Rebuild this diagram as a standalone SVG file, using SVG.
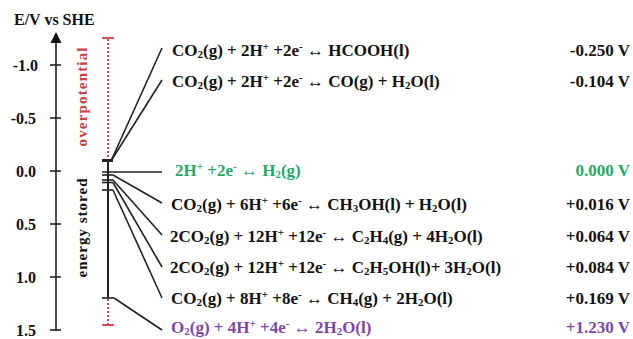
<svg xmlns="http://www.w3.org/2000/svg" width="633" height="339" viewBox="0 0 633 339">
<style>
text{font-family:"Liberation Serif","Times New Roman",serif;font-weight:bold;}
.eq{font-size:17px;fill:#111;}
.val{font-size:17px;fill:#111;text-anchor:end;}
.tick{font-size:16px;fill:#111;text-anchor:end;}
.green{fill:#27a86b;}
.purple{fill:#7d47a6;}
.sub{font-size:11px;baseline-shift:-2px;}
.sup{font-size:11px;baseline-shift:6px;}
.ln{stroke:#222;stroke-width:1.6;fill:none;}
.red{stroke:#d2404c;stroke-width:1.8;fill:none;}
.dot{stroke:#d2404c;stroke-width:1.8;stroke-dasharray:2 2;fill:none;}
</style>
<rect width="633" height="339" fill="#fff"/>
<g id="axis">
<text x="14" y="25" style="font-size:16px" fill="#111">E/V vs SHE</text>
<line x1="56" y1="40" x2="56" y2="331" class="ln" stroke-width="2"/>
<polygon points="56,32 50.5,43 61.5,43" fill="#111"/>
<g class="ln">
<line x1="50" y1="65" x2="61" y2="65"/>
<line x1="50" y1="118" x2="61" y2="118"/>
<line x1="50" y1="171" x2="61" y2="171"/>
<line x1="50" y1="224" x2="61" y2="224"/>
<line x1="50" y1="277" x2="61" y2="277"/>
<line x1="50" y1="330" x2="61" y2="330"/>
</g>
<text class="tick" x="38" y="70.5">-1.0</text>
<text class="tick" x="36" y="124">-0.5</text>
<text class="tick" x="36" y="177">0.0</text>
<text class="tick" x="36" y="229.5">0.5</text>
<text class="tick" x="36" y="282.5">1.0</text>
<text class="tick" x="36" y="335.5">1.5</text>
</g>
<g id="overpotential">
<line x1="102" y1="38" x2="114" y2="38" class="red"/>
<line x1="108" y1="39" x2="108" y2="159" class="dot"/>
<line x1="108" y1="299" x2="108" y2="325" class="dot"/>
<line x1="102" y1="325" x2="114" y2="325" class="red"/>
<text transform="translate(87,97) rotate(-90)" text-anchor="middle" style="font-size:15px" fill="#c9404a" textLength="99" lengthAdjust="spacing">overpotential</text>
<text transform="translate(87,228) rotate(-90)" text-anchor="middle" style="font-size:15px" fill="#111" textLength="99" lengthAdjust="spacing">energy stored</text>
</g>
<g id="connectors" class="ln">
<line x1="108" y1="160" x2="108" y2="298" stroke-width="2"/>
<line x1="102" y1="160.5" x2="113" y2="160.5" stroke-width="3"/>
<line x1="111" y1="161" x2="162" y2="48"/>
<line x1="111" y1="161" x2="162" y2="80"/>
<line x1="102" y1="172" x2="162" y2="172"/>
<line x1="102" y1="175" x2="113" y2="175"/>
<line x1="113" y1="175" x2="162" y2="203"/>
<line x1="102" y1="180" x2="113" y2="180"/>
<line x1="113" y1="180" x2="162" y2="235"/>
<line x1="102" y1="182.5" x2="113" y2="182.5"/>
<line x1="113" y1="182.5" x2="162" y2="267"/>
<line x1="102" y1="190" x2="113" y2="190"/>
<line x1="113" y1="190" x2="162" y2="298"/>
<line x1="102" y1="298" x2="114" y2="298"/>
<line x1="114" y1="298" x2="162" y2="330"/>
</g>
<g id="r1"><text class="eq" x="172" y="56">CO<tspan class="sub">2</tspan>(g) + 2H<tspan class="sup">+</tspan> +2e<tspan class="sup">-</tspan> ↔ HCOOH(l)</text><text class="val" x="630" y="56">-0.250 V</text></g>
<g id="r2"><text class="eq" x="172" y="87">CO<tspan class="sub">2</tspan>(g) + 2H<tspan class="sup">+</tspan> +2e<tspan class="sup">-</tspan> ↔ CO(g) + H<tspan class="sub">2</tspan>O(l)</text><text class="val" x="630" y="87">-0.104 V</text></g>
<g id="r3"><text class="eq green" x="175" y="175.5">2H<tspan class="sup">+</tspan> +2e<tspan class="sup">-</tspan> ↔ H<tspan class="sub">2</tspan>(g)</text><text class="val green" x="630" y="175.5">0.000 V</text></g>
<g id="r4"><text class="eq" x="171" y="210">CO<tspan class="sub">2</tspan>(g) + 6H<tspan class="sup">+</tspan> +6e<tspan class="sup">-</tspan> ↔ CH<tspan class="sub">3</tspan>OH(l) + H<tspan class="sub">2</tspan>O(l)</text><text class="val" x="630" y="210">+0.016 V</text></g>
<g id="r5"><text class="eq" x="170" y="242">2CO<tspan class="sub">2</tspan>(g) + 12H<tspan class="sup">+</tspan> +12e<tspan class="sup">-</tspan> ↔ C<tspan class="sub">2</tspan>H<tspan class="sub">4</tspan>(g) + 4H<tspan class="sub">2</tspan>O(l)</text><text class="val" x="630" y="242">+0.064 V</text></g>
<g id="r6"><text class="eq" x="170" y="273">2CO<tspan class="sub">2</tspan>(g) + 12H<tspan class="sup">+</tspan> +12e<tspan class="sup">-</tspan> ↔ C<tspan class="sub">2</tspan>H<tspan class="sub">5</tspan>OH(l)+ 3H<tspan class="sub">2</tspan>O(l)</text><text class="val" x="630" y="273">+0.084 V</text></g>
<g id="r7"><text class="eq" x="171" y="304">CO<tspan class="sub">2</tspan>(g) + 8H<tspan class="sup">+</tspan> +8e<tspan class="sup">-</tspan> ↔ CH<tspan class="sub">4</tspan>(g) + 2H<tspan class="sub">2</tspan>O(l)</text><text class="val" x="630" y="304">+0.169 V</text></g>
<g id="r8"><text class="eq purple" x="171" y="333">O<tspan class="sub">2</tspan>(g) + 4H<tspan class="sup">+</tspan> +4e<tspan class="sup">-</tspan> ↔ 2H<tspan class="sub">2</tspan>O(l)</text><text class="val purple" x="630" y="333">+1.230 V</text></g>
</svg>
